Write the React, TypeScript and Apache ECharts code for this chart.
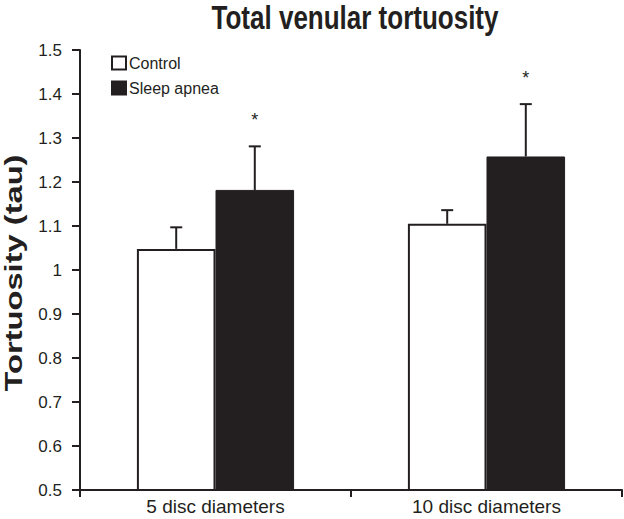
import React, { useEffect, useRef } from "react";
import * as echarts from "echarts";

const categories = ["5 disc diameters", "10 disc diameters"];
const seriesNames = ["Control", "Sleep apnea"];
const controlMeans = [1.048, 1.105];
const controlUpper = [1.097, 1.136];
const apneaMeans = [1.182, 1.258];
const apneaUpper = [1.281, 1.377];
const apneaMarks = ["*", "*"];
const yTicks = { min: 0.5, max: 1.5, interval: 0.1 };
const titleText = "Total venular tortuosity";
const yAxisTitle = "Tortuosity (tau)";

const INK = "#231f20";
const FONT = "'Liberation Sans', Arial, Helvetica, sans-serif";
const BAR_W = 0.29;

export default function App() {
  const ref = useRef<HTMLDivElement>(null);
  useEffect(() => {
    if (!ref.current) return;
    const chart = echarts.init(ref.current, null, { renderer: "svg" });

    const errData: any[] = [];
    categories.forEach((_, i) => {
      errData.push([i, controlMeans[i], controlUpper[i], 0, ""]);
      errData.push([i, apneaMeans[i], apneaUpper[i], 1, apneaMarks[i]]);
    });

    const option: any = {
      animation: false,
      backgroundColor: "#ffffff",
      textStyle: { fontFamily: FONT, color: INK },
      graphic: [
        {
          type: "text",
          x: 355,
          y: 17,
          scaleY: 1.25,
          style: {
            text: titleText,
            align: "center",
            verticalAlign: "middle",
            font: `bold 26px ${FONT}`,
            fill: INK,
          },
        },
        {
          type: "text",
          x: 14,
          y: 273,
          rotation: Math.PI / 2,
          scaleX: 1.42,
          style: {
            text: yAxisTitle,
            align: "center",
            verticalAlign: "middle",
            font: `bold 23px ${FONT}`,
            fill: INK,
          },
        },
      ],
      legend: {
        orient: "vertical",
        left: 106,
        top: 50,
        itemWidth: 14,
        itemHeight: 13,
        itemGap: 9,
        textStyle: { fontFamily: FONT, fontSize: 16, color: INK, padding: [0, 0, 0, -2] },
        data: [
          { name: seriesNames[0], icon: "rect", itemStyle: { color: "#ffffff", borderColor: INK, borderWidth: 2 } },
          { name: seriesNames[1], icon: "rect", itemStyle: { color: INK } },
        ],
      },
      grid: { left: 80, right: 2, top: 50, bottom: 29, containLabel: false },
      xAxis: {
        type: "category",
        data: categories,
        axisLine: { lineStyle: { color: INK, width: 2 } },
        axisTick: { show: true, length: 7, lineStyle: { color: INK, width: 2 } },
        axisLabel: { fontFamily: FONT, fontSize: 19, color: INK, margin: 7 },
      },
      yAxis: {
        type: "value",
        min: yTicks.min,
        max: yTicks.max,
        interval: yTicks.interval,
        axisLine: { show: true, lineStyle: { color: INK, width: 2 } },
        axisTick: { show: true, length: 8, lineStyle: { color: INK, width: 2 } },
        axisLabel: { fontFamily: FONT, fontSize: 17, color: INK, margin: 18 },
        splitLine: { show: false },
      },
      series: [
        {
          name: seriesNames[0],
          type: "bar",
          data: controlMeans,
          barWidth: BAR_W * 100 + "%",
          barGap: "0%",
          itemStyle: { color: "#ffffff", borderColor: INK, borderWidth: 2 },
        },
        {
          name: seriesNames[1],
          type: "bar",
          data: apneaMeans,
          barWidth: BAR_W * 100 + "%",
          barGap: "0%",
          itemStyle: { color: INK, borderColor: INK, borderWidth: 1 },
        },
        {
          name: "errors",
          type: "custom",
          data: errData,
          z: 5,
          silent: true,
          renderItem: (params: any, api: any) => {
            const cat = api.value(0);
            const mean = api.value(1);
            const upper = api.value(2);
            const side = api.value(3);
            const mark = errData[params.dataIndex][4];
            const band = api.size([1, 0])[0];
            const off = (side === 0 ? -1 : 1) * (band * BAR_W) / 2;
            const pMean = api.coord([cat, mean]);
            const pUp = api.coord([cat, upper]);
            const x = pMean[0] + off;
            const children: any[] = [
              { type: "line", shape: { x1: x, y1: pMean[1], x2: x, y2: pUp[1] }, style: { stroke: INK, lineWidth: 2 } },
              { type: "line", shape: { x1: x - 6, y1: pUp[1], x2: x + 6, y2: pUp[1] }, style: { stroke: INK, lineWidth: 2 } },
            ];
            if (mark) {
              children.push({
                type: "text",
                style: {
                  text: mark,
                  x: x,
                  y: pUp[1] - 26,
                  align: "center",
                  verticalAlign: "middle",
                  font: `18px ${FONT}`,
                  fill: INK,
                },
              });
            }
            return { type: "group", children };
          },
        },
      ],
    };
    chart.setOption(option);
    return () => chart.dispose();
  }, []);
  return <div ref={ref} style={{ position: "fixed", left: 0, top: 0, width: 624, height: 519 }} />;
}
